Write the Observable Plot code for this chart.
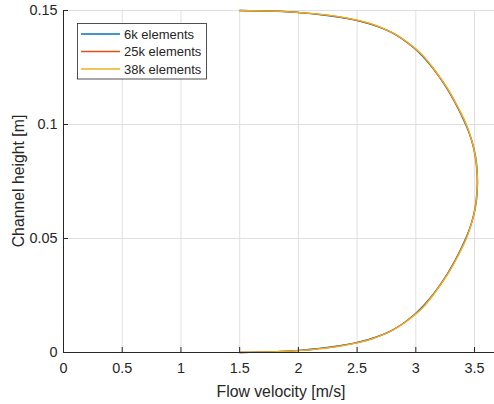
<!DOCTYPE html>
<html><head><meta charset="utf-8">
<script src="https://cdn.jsdelivr.net/npm/d3@7"></script>
<script src="https://cdn.jsdelivr.net/npm/@observablehq/plot@0.6"></script>
<style>body{margin:0;background:#fff} #chart svg{display:block}</style>
</head><body><div id="chart"></div>
<script>
const xTicks = [0, 0.5, 1, 1.5, 2, 2.5, 3, 3.5];
const xTickLabels = ["0", "0.5", "1", "1.5", "2", "2.5", "3", "3.5"];
const yTicks = [0, 0.05, 0.1, 0.15];
const yTickLabels = ["0", "0.05", "0.1", "0.15"];
const seriesNames = ["6k elements", "25k elements", "38k elements"];
const seriesColors = ["#0072BD", "#D95319", "#EDB120"];
const xLabel = "Flow velocity [m/s]";
const yLabel = "Channel height [m]";

// 6k elements (coarse mesh)
const height6k = [0, 0.001, 0.0045, 0.0095, 0.0165, 0.025, 0.035, 0.045, 0.056, 0.0668, 0.0832, 0.094, 0.105, 0.115, 0.125, 0.1335, 0.1405, 0.1455, 0.149, 0.15];
const velocity6k = [1.5, 2.03, 2.51, 2.79, 2.985, 3.14, 3.275, 3.38, 3.47, 3.517, 3.517, 3.47, 3.38, 3.275, 3.14, 2.985, 2.79, 2.51, 2.03, 1.5];

// 25k elements
const height25k = [0, 0.0003, 0.0006, 0.001, 0.0015, 0.002, 0.003, 0.0045, 0.006, 0.008, 0.01, 0.0125, 0.015, 0.0175, 0.02, 0.025, 0.03, 0.035, 0.04, 0.045, 0.05, 0.055, 0.06, 0.065, 0.07, 0.075, 0.08, 0.085, 0.09, 0.095, 0.1, 0.105, 0.11, 0.115, 0.12, 0.125, 0.13, 0.1325, 0.135, 0.1375, 0.14, 0.142, 0.144, 0.1455, 0.147, 0.148, 0.1485, 0.149, 0.1494, 0.1497, 0.15];
const velocity25k = [1.5, 1.77, 1.92, 2.04, 2.15, 2.24, 2.37, 2.52, 2.62, 2.725, 2.805, 2.885, 2.95, 3.012, 3.062, 3.142, 3.212, 3.277, 3.332, 3.382, 3.428, 3.463, 3.49, 3.508, 3.519, 3.523, 3.519, 3.508, 3.49, 3.463, 3.428, 3.382, 3.332, 3.277, 3.212, 3.142, 3.062, 3.012, 2.95, 2.885, 2.805, 2.725, 2.62, 2.52, 2.37, 2.24, 2.15, 2.04, 1.92, 1.77, 1.5];

// 38k elements
const height38k = [0, 0.0003, 0.0006, 0.001, 0.0015, 0.002, 0.003, 0.0045, 0.006, 0.008, 0.01, 0.0125, 0.015, 0.0175, 0.02, 0.025, 0.03, 0.035, 0.04, 0.045, 0.05, 0.055, 0.06, 0.065, 0.07, 0.075, 0.08, 0.085, 0.09, 0.095, 0.1, 0.105, 0.11, 0.115, 0.12, 0.125, 0.13, 0.1325, 0.135, 0.1375, 0.14, 0.142, 0.144, 0.1455, 0.147, 0.148, 0.1485, 0.149, 0.1494, 0.1497, 0.15];
const velocity38k = [1.5, 1.78, 1.93, 2.05, 2.16, 2.25, 2.38, 2.53, 2.63, 2.73, 2.81, 2.89, 2.955, 3.015, 3.065, 3.145, 3.215, 3.28, 3.335, 3.385, 3.43, 3.465, 3.492, 3.51, 3.521, 3.525, 3.521, 3.51, 3.492, 3.465, 3.43, 3.385, 3.335, 3.28, 3.215, 3.145, 3.065, 3.015, 2.955, 2.89, 2.81, 2.73, 2.63, 2.53, 2.38, 2.25, 2.16, 2.05, 1.93, 1.78, 1.5];

const seriesHeights = [height6k, height25k, height38k];
const seriesVelocities = [velocity6k, velocity25k, velocity38k];
const rows = seriesNames.flatMap((name, s) => seriesHeights[s].map((h, i) => ({series: name, h, u: seriesVelocities[s][i]})));

const ink = "#262626";
const fontFamily = "'Liberation Sans', Arial, Helvetica, sans-serif";

const plot = Plot.plot({
  width: 494, height: 404,
  marginLeft: 63, marginRight: 0, marginTop: 10, marginBottom: 52,
  style: {fontFamily, fontSize: "14.4px", color: ink, background: "#fff"},
  x: {domain: [0, 3.67], label: null},
  y: {domain: [0, 0.15], label: null},
  color: {domain: seriesNames, range: seriesColors},
  marks: [
    Plot.gridX(xTicks, {stroke: "#dfdfdf", strokeOpacity: 1}),
    Plot.gridY(yTicks, {stroke: "#dfdfdf", strokeOpacity: 1}),
    Plot.line(rows, {x: "u", y: "h", z: "series", stroke: "series", strokeWidth: 1.3, curve: "catmull-rom"}),
    Plot.axisX(xTicks, {tickSize: 0, tickPadding: 10, tickFormat: (d) => xTickLabels[xTicks.indexOf(d)], label: null, fill: ink}),
    Plot.axisY(yTicks, {tickSize: 0, tickPadding: 6, tickFormat: (d) => yTickLabels[yTicks.indexOf(d)], label: null, fill: ink}),
    Plot.ruleX(xTicks, {x: d => d, y1: 0, y2: 0, insetBottom: 5, stroke: ink, strokeWidth: 1}),
    Plot.ruleY(yTicks, {y: d => d, x1: 0, x2: 0, insetRight: -5, stroke: ink, strokeWidth: 1}),
    Plot.ruleY([0], {stroke: ink, strokeWidth: 1}),
    Plot.ruleX([0], {stroke: ink, strokeWidth: 1})
  ]
});

const svg = d3.select(plot);
svg.append("text")
  .attr("x", 281).attr("y", 396.5)
  .attr("text-anchor", "middle")
  .style("fill", ink).attr("font-family", fontFamily).attr("font-size", "15.8px")
  .text(xLabel);
svg.append("text")
  .attr("transform", "translate(23.5,181) rotate(-90)")
  .attr("text-anchor", "middle")
  .style("fill", ink).attr("font-family", fontFamily).attr("font-size", "15.8px")
  .text(yLabel);

const lg = svg.append("g");
lg.append("rect").attr("x", 77.5).attr("y", 23.5).attr("width", 129).attr("height", 55.5)
  .style("fill", "#ffffff").style("stroke", ink).style("stroke-width", "0.8px");
const rowY = [34, 51.5, 69];
seriesNames.forEach((name, i) => {
  lg.append("line").attr("x1", 81).attr("x2", 120).attr("y1", rowY[i]).attr("y2", rowY[i])
    .style("stroke", seriesColors[i]).style("stroke-width", "1.3px");
  lg.append("text").attr("x", 124).attr("y", rowY[i]).attr("dy", "0.35em")
    .attr("text-anchor", "start")
    .style("fill", ink).attr("font-family", fontFamily).attr("font-size", "13px")
    .text(name);
});

document.getElementById("chart").appendChild(plot);
</script>
</body></html>
